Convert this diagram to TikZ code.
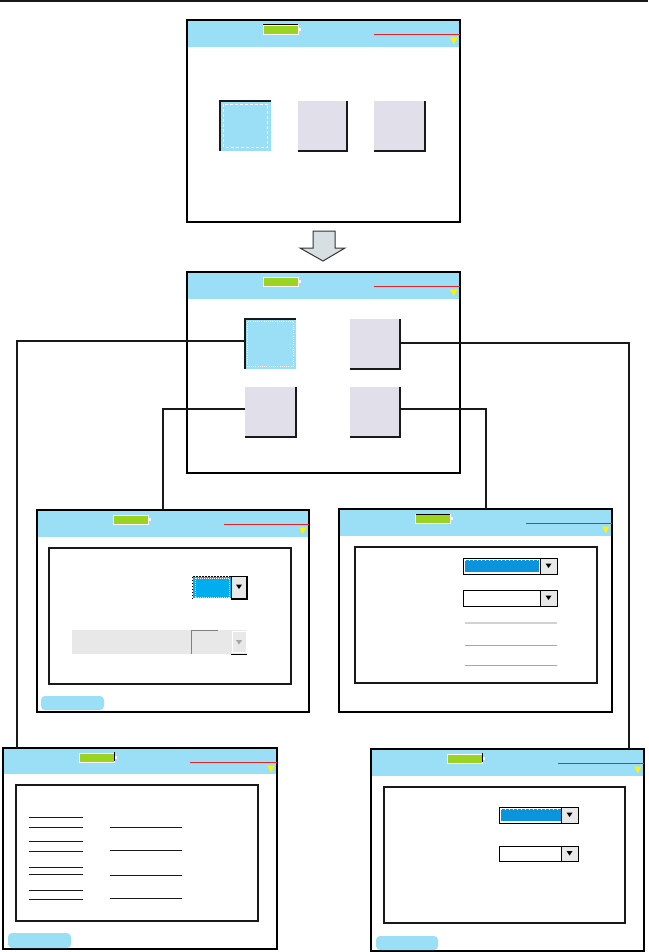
\documentclass[tikz,border=0pt]{standalone}
\usetikzlibrary{calc}
\definecolor{hdrblue}{HTML}{9BDFF7}
\definecolor{batgreen}{HTML}{9AD320}
\definecolor{icongray}{HTML}{E0DFEA}
\definecolor{combob}{HTML}{00AEEF}
\definecolor{combob2}{HTML}{0B93DC}
\definecolor{btngray}{HTML}{E8E8E8}
\definecolor{redl}{HTML}{E8202A}
\definecolor{yel}{HTML}{FFF200}
\definecolor{arrowfill}{HTML}{D8DFE3}
\newcommand\rnode[6]{%
  \pgfmathsetmacro\rcx{(#3+#5)/2}\pgfmathsetmacro\rcy{(#4+#6)/2}%
  \pgfmathsetmacro\rw{#5-#3}\pgfmathsetmacro\rh{#6-#4}%
  \node[#1, minimum width=\rw pt, minimum height=\rh pt, inner sep=0pt, outer sep=0pt] (#2) at (\rcx,\rcy) {};}
\newcommand\myscreen[6]{%
  \rnode{scr}{#1}{#2}{#3}{#4}{#5}
  \fill[hdrblue] (#2,#3) rectangle (#4,#6);
  \draw[scrline] (#1.north west) rectangle (#1.south east);
  \draw[fill=batgreen,draw=white,line width=0.8pt] ($(#2,#3)+(76,5)$) rectangle ++(35,9);
  \fill[white] ($(#2,#3)+(111,8)$) rectangle ++(3,3);
  \draw[redl,line width=0.8pt] ($(#2,#3)+(187,14)$) -- ($(#4,#3)+(0,14)$);
  \fill[yel] ($(#4,#3)+(-10,17.5)$) -- ++(7.5,0) -- ++(-3.75,6.5) -- cycle;}
\newcommand\btntri[3]{\fill[#3] ($(#1,#2)+(-3,-2)$) -- ++(6,0) -- ++(-3,4.5) -- cycle;}
\tikzset{
  scr/.style={fill=white},
  scrline/.style={draw=black,line width=1.3pt},
  icon/.style={fill=icongray},
  iconsel/.style={fill=hdrblue},
  edge/.style={draw=black!90,line width=1.5pt},
  conn/.style={draw=black!90,line width=1.5pt},
  inner/.style={draw=black!90,line width=1.2pt},
  pill/.style={fill=hdrblue,rounded corners=4pt},
  rule/.style={draw=black!90,line width=0.9pt},
}
\begin{document}
\begin{tikzpicture}[x=1pt,y=-1pt]
\useasboundingbox (0,0) rectangle (648,952);
\draw[line width=2.2pt,black!90] (0,1) -- (648,1);
% screen 1
\myscreen{S1}{187}{20}{460}{222}{47}
\draw[black,line width=0.8pt] (263,24.5) -- (298,24.5);
\rnode{iconsel}{Ia}{220}{101}{271}{151}
\rnode{icon}{Ib}{298}{101}{347}{151}
\rnode{icon}{Ic}{374}{101}{425}{151}
\draw[edge] (Ia.south west) -- (Ia.north west) -- (Ia.north east);
\draw[white,line width=0.8pt,dash pattern=on 3pt off 2pt] (223.5,104.5) rectangle (267.5,147.5);
\draw[edge] (Ib.north east) -- (Ib.south east) -- (Ib.south west);
\draw[edge] (Ic.north east) -- (Ic.south east) -- (Ic.south west);
% arrow
\draw[fill=arrowfill,draw=black!80,line width=1pt] (313,231) -- (335,231) -- (335,248) -- (345,248) -- (323,261) -- (300,248) -- (313,248) -- cycle;
% screen 2
\myscreen{S2}{187}{272}{460}{473}{299}
\rnode{iconsel}{A}{245}{319}{296}{369}
\rnode{icon}{B}{350}{319}{400}{369}
\rnode{icon}{C}{245}{387}{296}{437}
\rnode{icon}{D}{350}{387}{400}{437}
\draw[edge] (A.south west) -- (A.north west) -- (A.north east);
\draw[white,line width=0.8pt,dash pattern=on 1pt off 1.2pt] (247.5,321.5) rectangle (293.5,366.5);
\draw[edge] (B.north east) -- (B.south east) -- (B.south west);
\draw[edge] (C.north east) -- (C.south east) -- (C.south west);
\draw[edge] (D.north east) -- (D.south east) -- (D.south west);
% screen 3 (left middle)
\myscreen{S3}{37}{510}{309}{712}{537}
\draw[inner] (49,548) rectangle (291,684);
\fill[combob] (193,577) rectangle (231,598);
\draw[white,line width=0.6pt,dash pattern=on 1pt off 1pt] (195,578) rectangle (229,597);
\draw[black,line width=0.8pt,dash pattern=on 1.5pt off 1.5pt] (192,599) -- (192,576) -- (231,576);
\draw[fill=btngray,draw=black,line width=0.8pt] (231,576) rectangle (247,599);
\draw[black,line width=1.2pt] (231,599) -- (247,599) -- (247,576);
\btntri{239}{586.5}{black}
\fill[btngray] (72,630) rectangle (247,654);
\draw[black!50,line width=0.8pt] (191.5,654) -- (191.5,630.5) -- (218,630.5);
\draw[white,line width=0.8pt] (232,631) rectangle (246,652);
\draw[black,line width=0.8pt] (231,654) -- (247,654);
\btntri{239}{642}{black!35}
\rnode{pill}{P3}{41}{696}{104}{710}
% screen 4 (right middle)
\myscreen{S4}{339}{509}{612}{712}{536}
\draw[black,line width=0.8pt] (416,514.5) -- (450,514.5);
\draw[inner] (355,547) rectangle (597,683);
\fill[combob2] (465,560) rectangle (539,572);
\draw[white,line width=0.6pt,dash pattern=on 1pt off 3pt] (465,560.5) -- (539,560.5);
\draw[fill=btngray,draw=black,line width=0.8pt] (540,558) rectangle (557,574);
\draw[black,line width=1pt] (463,558) rectangle (557,574);
\btntri{548.5}{565.5}{black}
\draw[fill=btngray,draw=black,line width=0.8pt] (540,590) rectangle (557,606);
\draw[black,line width=1pt] (463,590) rectangle (557,606);
\btntri{548.5}{597.5}{black}
\draw[btngray!90!black,line width=1.2pt] (465,623) -- (557,623);
\draw[black!35,line width=0.8pt] (465,645) -- (557,645);
\draw[black!35,line width=0.8pt] (465,665) -- (557,665);
% screen 5 (bottom left)
\myscreen{S5}{3}{748}{277}{949}{774}
\draw[black,line width=0.8pt] (114.5,752) -- (114.5,761);
\draw[inner] (16,785) rectangle (258,921);
\foreach \yy in {817,827,841,851,867,874,890,899} \draw[rule] (29,\yy) -- (83,\yy);
\foreach \yy in {827,850,875,898} \draw[rule] (110,\yy) -- (182,\yy);
\rnode{pill}{P5}{8}{933}{71}{948}
% screen 6 (bottom right)
\myscreen{S6}{371}{749}{644}{951}{776}
\draw[black,line width=0.8pt] (482.5,753) -- (482.5,762);
\draw[inner] (384,787) rectangle (625,923);
\fill[combob2] (501,809) rectangle (561,821);
\draw[white,line width=0.6pt,dash pattern=on 1pt off 3pt] (501,809.5) -- (561,809.5);
\draw[fill=btngray,draw=black,line width=0.8pt] (561,807) rectangle (578,823);
\draw[black,line width=1pt] (499,807) rectangle (578,823);
\btntri{569.5}{814.5}{black}
\draw[fill=btngray,draw=black,line width=0.8pt] (561,846) rectangle (578,861);
\draw[black,line width=1pt] (499,846) rectangle (578,861);
\btntri{569.5}{853}{black}
\rnode{pill}{P6}{376}{936}{438}{950}
% connectors
\coordinate (eL) at ($(S5.north west)+(14,0)$);
\coordinate (eR) at ($(S6.north west)+(258,0)$);
\coordinate (eC) at ($(S3.north west)+(126,0)$);
\coordinate (eD) at ($(S4.north west)+(147,0)$);
\draw[conn] ($(A.north west)+(0,22)$) -| (eL);
\draw[conn] ($(B.north east)+(0,24)$) -| (eR);
\draw[conn] ($(C.north west)+(0,22)$) -| (eC);
\draw[conn] ($(D.north east)+(0,22)$) -| (eD);
\end{tikzpicture}
\end{document}
